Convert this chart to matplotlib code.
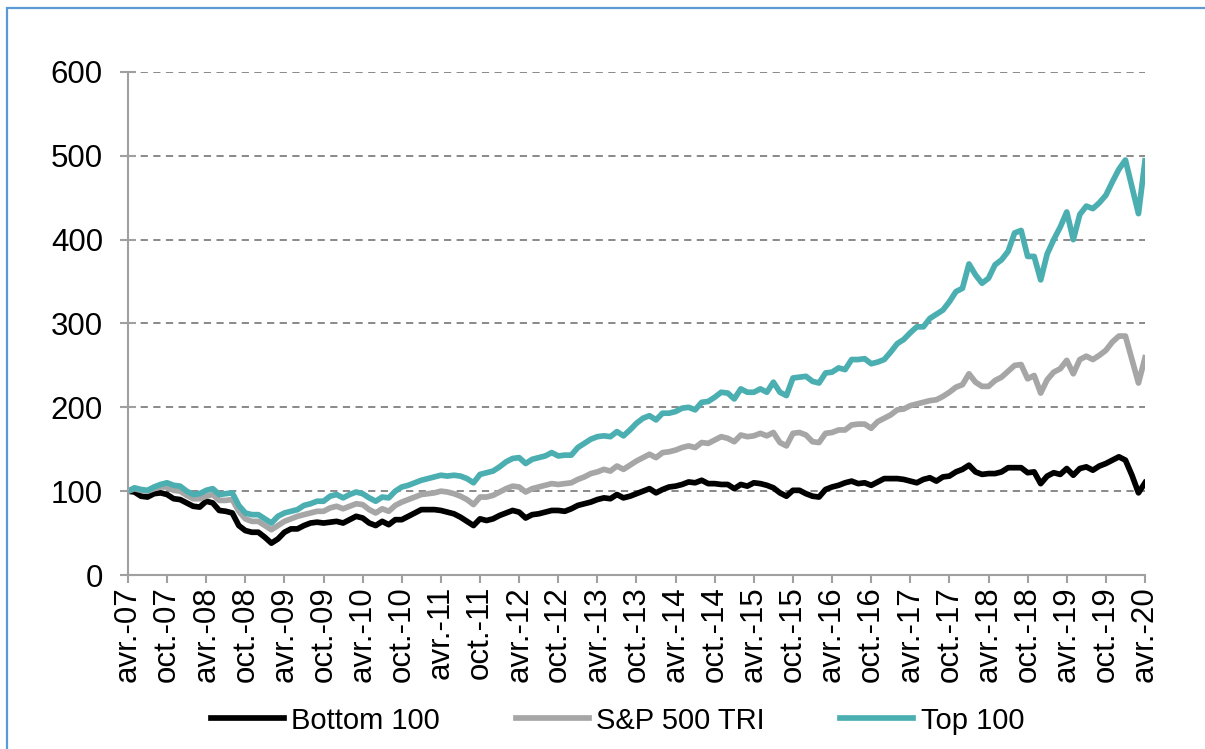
import numpy as np
import matplotlib
matplotlib.use("Agg")
import matplotlib.pyplot as plt
from matplotlib.patches import Rectangle

plt.rcParams['font.family'] = ['Liberation Sans', 'DejaVu Sans']

# monthly index values, avr. 2007 -> avr. 2020 (base 100)
bottom_100 = [100, 99, 94, 93, 97, 98, 96, 91, 90, 86, 82, 81, 88, 86, 77, 76, 74, 59, 53, 51,
              51, 45, 38, 43, 51, 55, 55, 59, 62, 63, 62, 63, 64, 62, 66, 70, 68, 62, 59, 64,
              60, 66, 66, 70, 74, 78, 78, 78, 77, 75, 73, 69, 64, 59, 67, 65, 67, 71, 74, 77,
              75, 68, 72, 73, 75, 77, 77, 76, 79, 83, 85, 87, 90, 92, 91, 96, 92, 94, 97, 100,
              103, 98, 102, 105, 106, 108, 111, 110, 113, 109, 109, 108, 108, 103, 108, 106, 110, 109, 107, 104,
              98, 94, 101, 101, 97, 94, 93, 102, 105, 107, 110, 112, 109, 110, 107, 111, 115, 115, 115, 114,
              112, 110, 114, 116, 112, 117, 118, 123, 126, 131, 123, 120, 121, 121, 123, 128, 128, 128, 122, 123,
              109, 118, 122, 120, 127, 119, 127, 129, 125, 130, 133, 137, 141, 137, 119, 98, 110]

sp500_tri = [100, 103, 101, 100, 103, 105, 105, 101, 100, 95, 91, 91, 94, 96, 89, 89, 90, 76, 67, 64,
             64, 59, 54, 59, 64, 67, 70, 72, 74, 76, 76, 80, 82, 79, 82, 85, 84, 78, 74, 79,
             76, 83, 87, 90, 93, 96, 97, 98, 100, 99, 97, 94, 90, 84, 93, 93, 95, 99, 103, 106,
             105, 99, 103, 105, 107, 109, 108, 109, 110, 114, 117, 121, 123, 126, 124, 130, 126, 131, 136, 140,
             144, 140, 146, 147, 149, 152, 154, 152, 158, 157, 161, 165, 163, 159, 167, 165, 166, 169, 166, 170,
             158, 154, 169, 170, 167, 159, 158, 169, 170, 173, 173, 179, 180, 180, 175, 183, 187, 191, 197, 198,
             202, 204, 206, 208, 209, 213, 218, 224, 227, 240, 230, 225, 225, 232, 236, 243, 250, 251, 234, 238,
             217, 233, 242, 246, 256, 240, 257, 261, 257, 262, 268, 278, 285, 285, 257, 229, 259]

top_100 = [100, 104, 102, 101, 105, 108, 110, 107, 106, 100, 96, 97, 101, 103, 96, 97, 98, 83, 74, 72,
           72, 67, 62, 70, 74, 76, 78, 83, 85, 88, 88, 94, 96, 92, 96, 99, 97, 92, 88, 93,
           92, 100, 105, 107, 110, 113, 115, 117, 119, 118, 119, 118, 115, 110, 120, 122, 124, 129, 135, 139,
           140, 133, 138, 140, 142, 146, 142, 143, 143, 152, 157, 162, 165, 166, 165, 171, 166, 173, 181, 187,
           190, 185, 193, 193, 195, 199, 200, 197, 206, 207, 212, 218, 217, 210, 222, 218, 218, 222, 218, 230,
           218, 214, 235, 236, 237, 231, 229, 241, 242, 247, 245, 257, 257, 258, 252, 254, 257, 266, 276, 281,
           289, 296, 296, 306, 311, 316, 326, 338, 342, 371, 358, 348, 354, 370, 376, 386, 408, 411, 380, 380,
           352, 383, 400, 415, 433, 400, 430, 440, 437, 444, 453, 469, 484, 495, 463, 431, 494]

tick_labels = ['avr.-07', 'oct.-07', 'avr.-08', 'oct.-08', 'avr.-09', 'oct.-09', 'avr.-10',
               'oct.-10', 'avr.-11', 'oct.-11', 'avr.-12', 'oct.-12', 'avr.-13', 'oct.-13',
               'avr.-14', 'oct.-14', 'avr.-15', 'oct.-15', 'avr.-16', 'oct.-16', 'avr.-17',
               'oct.-17', 'avr.-18', 'oct.-18', 'avr.-19', 'oct.-19', 'avr.-20']

months = np.arange(len(top_100))
axis_grey = '#A0A0A0'

fig = plt.figure(figsize=(12.05, 7.49), dpi=100)
ax = fig.add_axes([0.1062, 0.2323, 0.8440, 0.6716])

ax.plot(months, bottom_100, color='black', lw=4.1, label='Bottom 100', solid_joinstyle='round')
ax.plot(months, sp500_tri, color='#A6A6A6', lw=4.1, label='S&P 500 TRI', solid_joinstyle='round')
ax.plot(months, top_100, color='#4BAFB2', lw=4.1, label='Top 100', solid_joinstyle='round')

ax.set_xlim(0, len(months) - 1)
ax.set_ylim(0, 600)
ax.set_yticks(range(0, 601, 100))
ax.set_xticks(months[::6])
ax.set_xticklabels(tick_labels, rotation=90)

ax.yaxis.grid(True, ls=(0, (4, 3)), color='#808080', lw=1.3)
ax.set_axisbelow(True)

for s in ['top', 'right']:
    ax.spines[s].set_visible(False)
for s in ['left', 'bottom']:
    ax.spines[s].set_color(axis_grey)
    ax.spines[s].set_linewidth(1.5)

ax.tick_params(axis='y', direction='inout', length=12, width=1.5, color=axis_grey,
               labelsize=22.5, pad=12)
ax.tick_params(axis='x', direction='out', length=6, width=1.5, color=axis_grey,
               labelsize=22.5, pad=2)

fig.legend(loc='center', bbox_to_anchor=(0.5125, 0.038), ncol=3, frameon=False,
           fontsize=21, handlelength=2.5, handletextpad=0.25, columnspacing=2.6)

# light blue frame around the chart area
fig.patches.append(Rectangle((7 / 1205, -0.05), 1.1, 1 - 8 / 749 + 0.05,
                             transform=fig.transFigure, fill=False,
                             edgecolor='#5B9BD5', lw=1.6))

fig.savefig('out.png', dpi=100)
